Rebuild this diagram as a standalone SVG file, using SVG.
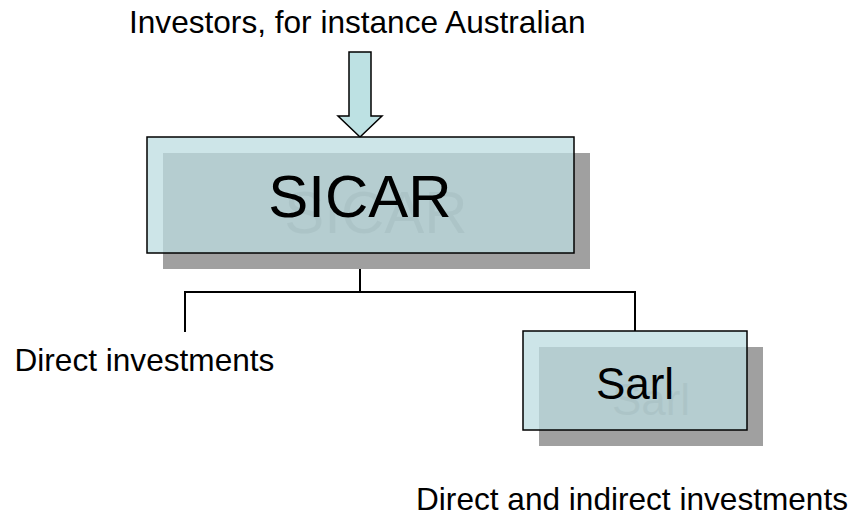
<svg xmlns="http://www.w3.org/2000/svg" width="855" height="516" viewBox="0 0 855 516">
<style>
.lbl{font-family:"Liberation Sans",Arial,sans-serif;fill:#000;font-size:31.6px}
.shadow{fill:#A0A0A0}
.ghost{fill:#7E7E7E;font-family:"Liberation Sans",Arial,sans-serif;text-anchor:middle}
.box{fill:#BCDCE0;fill-opacity:0.75;stroke:#000;stroke-width:1.5}
.title{font-family:"Liberation Sans",Arial,sans-serif;fill:#000;text-anchor:middle}
.conn{fill:none;stroke:#000;stroke-width:2}
</style>
<rect width="855" height="516" fill="#fff"/>
<text class="lbl" x="129" y="33">Investors, for instance Australian</text>
<g id="arrow">
<path d="M349,52 H371 V116 H382 L360,137 L338,116 H349 Z" fill="#BDE1E3" stroke="#000" stroke-width="1.5"/>
</g>
<g id="connectors">
<path class="conn" d="M360,253 V292 M185,292 H635 M185,291 V332 M635,291 V331"/>
</g>
<g id="sicar">
<rect class="shadow" x="163" y="153" width="427" height="116"/>
<text class="ghost" x="376" y="233" font-size="60">SICAR</text>
<rect class="box" x="147" y="137" width="427" height="116"/>
<text class="title" x="360" y="217" font-size="60">SICAR</text>
</g>
<g id="sarl">
<rect class="shadow" x="539" y="347" width="224" height="99"/>
<text class="ghost" x="651" y="415" font-size="44">Sarl</text>
<rect class="box" x="523" y="331" width="224" height="99"/>
<text class="title" x="635" y="399" font-size="44">Sarl</text>
</g>
<text class="lbl" x="14.5" y="371">Direct investments</text>
<text class="lbl" x="848" y="510" text-anchor="end">Direct and indirect investments</text>
</svg>
